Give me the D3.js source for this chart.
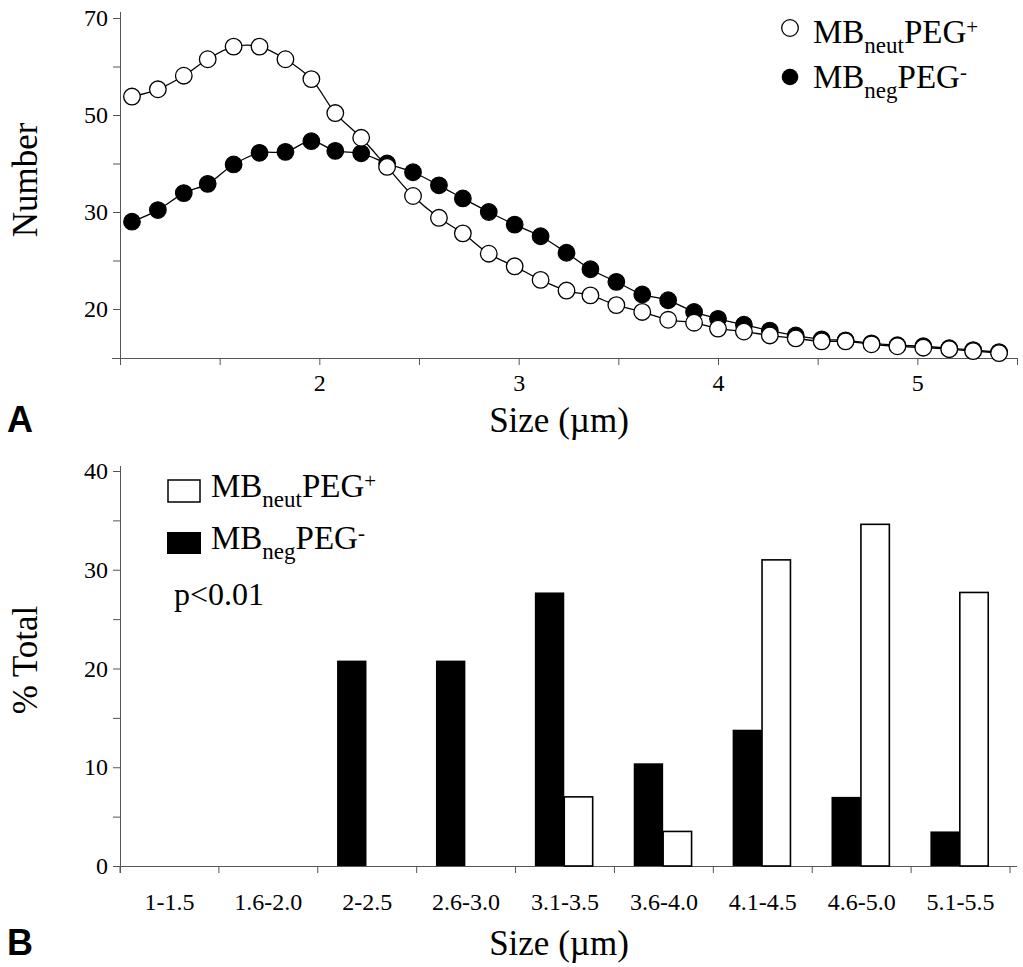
<!DOCTYPE html>
<meta charset="utf-8">
<script src="https://d3js.org/d3.v7.min.js"></script>
<style>
body{margin:0;background:#fff;}
svg text{font-family:"Liberation Serif","Times New Roman",serif;fill:#000;}
.axis path,.axis line{stroke:#555;stroke-width:1;}
.panel{font-family:"Liberation Sans",Arial,sans-serif !important;font-weight:bold;}
</style>
<div id="vis"></div>
<script>

// Panel A: particle counts per size step
var sizes = [1.06, 1.19, 1.32, 1.44, 1.57, 1.70, 1.83, 1.96, 2.08, 2.21, 2.34, 2.47,
             2.60, 2.72, 2.85, 2.98, 3.11, 3.24, 3.36, 3.49, 3.62, 3.75, 3.88, 4.00,
             4.13, 4.26, 4.39, 4.52, 4.64, 4.77, 4.90, 5.03, 5.16, 5.28, 5.41];
var neutCount = [53.8, 55.3, 58.1, 61.5, 64.1, 64.1, 61.5, 57.4, 50.4, 45.3, 39.3, 33.3,
                 29.4, 27.8, 25.7, 24.4, 23.0, 21.9, 21.4, 20.4, 19.7, 18.9, 18.6, 18.0,
                 17.7, 17.3, 17.0, 16.7, 16.7, 16.4, 16.2, 16.05, 15.9, 15.7, 15.5];
var negCount = [29.0, 30.4, 33.9, 35.8, 39.8, 42.2, 42.4, 44.6, 42.6, 42.1, 40.0, 38.2,
                35.5, 32.8, 30.0, 28.7, 27.5, 25.8, 24.1, 22.8, 21.5, 20.9, 19.7, 19.0,
                18.4, 17.8, 17.3, 16.9, 16.8, 16.5, 16.3, 16.2, 16.0, 15.8, 15.6];
var countTicks = [70, 50, 30, 20];          // labelled ticks (unevenly valued, evenly spaced)
var countMinor = [15, 25, 40, 60];
var sizeTicks = [2, 3, 4, 5];

// Panel B: % of total per size bin
var bins = ["1-1.5", "1.6-2.0", "2-2.5", "2.6-3.0", "3.1-3.5", "3.6-4.0", "4.1-4.5", "4.6-5.0", "5.1-5.5"];
var negPct  = [0, 0, 20.8, 20.8, 27.7, 10.4, 13.8, 7.0, 3.5];
var neutPct = [0, 0, 0, 0, 7.0, 3.5, 31.0, 34.6, 27.7];
var pctTicks = [0, 10, 20, 30, 40];

var w = 1023, h = 967;
var svg = d3.select("#vis").append("svg").attr("width", w).attr("height", h);

// ---------- Panel A ----------
var xA = d3.scaleLinear().domain([1, 5.5]).range([120, 1017]);
var yA = d3.scaleLinear().domain([15, 20, 30, 50, 70]).range([358, 309, 212, 115, 18]);

svg.append("g")
    .attr("class", "axis")
    .attr("transform", "translate(0,358)")
    .call(d3.axisBottom(xA).tickValues(d3.range(1, 5.51, 0.5)).tickSize(7).tickSizeOuter(0)
      .tickFormat(function(d) { return sizeTicks.indexOf(d) >= 0 ? d : ""; }))
    .call(function(g) {
      g.selectAll("text").attr("font-size", 24).attr("dy", "0.95em");
      g.select(".domain").attr("d", "M112,0.5H1017");
    });

svg.append("g")
    .attr("class", "axis")
    .attr("transform", "translate(120,0)")
    .call(d3.axisLeft(yA).tickValues(countTicks.concat(countMinor)).tickSize(7).tickSizeOuter(0)
      .tickFormat(function(d) { return countTicks.indexOf(d) >= 0 ? d : ""; }))
    .call(function(g) {
      g.selectAll("text").attr("font-size", 24).attr("x", -12);
      g.select(".domain").attr("d", "M0.5,12V365");
    });

var line = d3.line()
    .x(function(d) { return xA(d[0]); })
    .y(function(d) { return yA(d[1]); })
    .curve(d3.curveCatmullRom);

var negPts = sizes.map(function(s, i) { return [s, negCount[i]]; });
var neutPts = sizes.map(function(s, i) { return [s, neutCount[i]]; });

svg.append("path").datum(negPts).attr("d", line)
    .attr("fill", "none").attr("stroke", "#000").attr("stroke-width", 1.3);
svg.append("path").datum(neutPts).attr("d", line)
    .attr("fill", "none").attr("stroke", "#000").attr("stroke-width", 1.3);

svg.selectAll(".neg").data(negPts).enter().append("circle")
    .attr("class", "neg")
    .attr("cx", function(d) { return xA(d[0]); })
    .attr("cy", function(d) { return yA(d[1]); })
    .attr("r", 8.3).attr("fill", "#000").attr("stroke", "#000").attr("stroke-width", 1.2);

svg.selectAll(".neut").data(neutPts).enter().append("circle")
    .attr("class", "neut")
    .attr("cx", function(d) { return xA(d[0]); })
    .attr("cy", function(d) { return yA(d[1]); })
    .attr("r", 8.3).attr("fill", "#fff").attr("stroke", "#000").attr("stroke-width", 1.3);

// legend A
function legendLabel(x, y, sub, sup) {
  var t = svg.append("text").attr("x", x).attr("y", y).attr("font-size", 33);
  t.append("tspan").text("MB");
  t.append("tspan").attr("font-size", 23).attr("dy", 10).text(sub);
  t.append("tspan").attr("dy", -10).text("PEG");
  t.append("tspan").attr("font-size", 21).attr("dy", -9).text(sup);
}
svg.append("circle").attr("cx", 790).attr("cy", 28).attr("r", 8.3)
    .attr("fill", "#fff").attr("stroke", "#000").attr("stroke-width", 1.3);
svg.append("circle").attr("cx", 790).attr("cy", 77).attr("r", 8.3).attr("fill", "#000");
legendLabel(813, 43, "neut", "+");
legendLabel(813, 88, "neg", "-");

svg.append("text").attr("text-anchor", "middle").attr("font-size", 35)
    .attr("transform", "translate(37,180) rotate(-90)").text("Number");
svg.append("text").attr("text-anchor", "middle").attr("font-size", 35)
    .attr("x", 559).attr("y", 432).text("Size (\u00b5m)");
svg.append("text").attr("class", "panel").attr("font-size", 36)
    .attr("x", 7).attr("y", 432).text("A");

// ---------- Panel B ----------
var xB = d3.scaleBand().domain(bins).range([120, 1010]);
var sub = d3.scaleBand().domain(["neg", "neut"]).range([xB.bandwidth() * 0.195, xB.bandwidth() * 0.79]);
var yB = d3.scaleLinear().domain([0, 40]).range([866, 471]);

svg.append("g")
    .attr("class", "axis")
    .attr("transform", "translate(0,866)")
    .call(d3.axisBottom(xB).tickSize(0).tickPadding(0))
    .call(function(g) {
      g.selectAll(".tick line").remove();
      g.selectAll("text").attr("font-size", 24).attr("y", 44).attr("dy", 0);
      g.select(".domain").attr("d", "M114,0.5H1017");
    });

// band edge ticks on x axis
svg.append("g").selectAll("line")
    .data(bins.concat(["end"]))
    .enter().append("line")
    .attr("x1", function(d, i) { return 120 + i * xB.step(); })
    .attr("x2", function(d, i) { return 120 + i * xB.step(); })
    .attr("y1", 866).attr("y2", 873)
    .attr("stroke", "#555");

svg.append("g")
    .attr("class", "axis")
    .attr("transform", "translate(120,0)")
    .call(d3.axisLeft(yB).tickValues(d3.range(0, 41, 5)).tickSize(7).tickSizeOuter(0)
      .tickFormat(function(d) { return pctTicks.indexOf(d) >= 0 ? d : ""; }))
    .call(function(g) {
      g.selectAll("text").attr("font-size", 24).attr("x", -12);
      g.select(".domain").attr("d", "M0.5,466V873");
    });

var groups = svg.selectAll(".bin").data(bins).enter().append("g")
    .attr("transform", function(d) { return "translate(" + xB(d) + ",0)"; });

groups.append("rect")
    .attr("x", sub("neg"))
    .attr("y", function(d, i) { return yB(negPct[i]); })
    .attr("width", sub.bandwidth())
    .attr("height", function(d, i) { return 866 - yB(negPct[i]); })
    .attr("fill", "#000")
    .attr("display", function(d, i) { return negPct[i] > 0 ? null : "none"; });

groups.append("rect")
    .attr("x", sub("neut"))
    .attr("y", function(d, i) { return yB(neutPct[i]); })
    .attr("width", sub.bandwidth() - 1)
    .attr("height", function(d, i) { return 866 - yB(neutPct[i]); })
    .attr("fill", "#fff").attr("stroke", "#000").attr("stroke-width", 1.6)
    .attr("display", function(d, i) { return neutPct[i] > 0 ? null : "none"; });

// legend B
svg.append("rect").attr("x", 168).attr("y", 480).attr("width", 32).attr("height", 22)
    .attr("fill", "#fff").attr("stroke", "#000").attr("stroke-width", 1.5);
svg.append("rect").attr("x", 167).attr("y", 532).attr("width", 34).attr("height", 22)
    .attr("fill", "#000");
legendLabel(211, 497, "neut", "+");
legendLabel(211, 549, "neg", "-");
svg.append("text").attr("font-size", 32).attr("x", 174).attr("y", 605).text("p<0.01");

svg.append("text").attr("text-anchor", "middle").attr("font-size", 35)
    .attr("transform", "translate(37,660) rotate(-90)").text("% Total");
svg.append("text").attr("text-anchor", "middle").attr("font-size", 35)
    .attr("x", 559).attr("y", 955).text("Size (\u00b5m)");
svg.append("text").attr("class", "panel").attr("font-size", 36)
    .attr("x", 7).attr("y", 955).text("B");

</script>
